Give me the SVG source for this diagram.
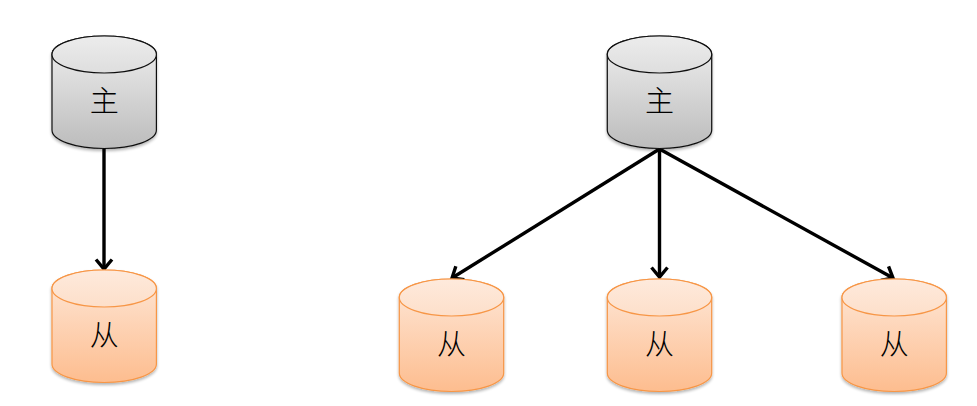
<svg xmlns="http://www.w3.org/2000/svg" xmlns:xlink="http://www.w3.org/1999/xlink" width="977" height="406" viewBox="0 0 977 406">
<style>
.grey .body{fill:url(#gb);stroke:#111;}
.grey .top{fill:url(#gt);stroke:#111;}
.orange .body{fill:url(#ob);stroke:#f79646;}
.orange .top{fill:url(#ot);stroke:#f79646;}
.body,.top{stroke-width:1.2;}
.lbl{font-family:"Noto Sans CJK SC","Noto Sans CJK JP",sans-serif;font-size:29px;font-weight:300;text-anchor:middle;fill:#000;}
.conn{stroke:#000;stroke-width:3.4;fill:none;marker-end:url(#arr);}
</style>
<defs>
<linearGradient id="gb" x1="0" y1="0" x2="0" y2="1"><stop offset="0" stop-color="#f0f0f0"/><stop offset="1" stop-color="#bcbcbc"/></linearGradient>
<linearGradient id="gt" x1="0" y1="0" x2="0" y2="1"><stop offset="0" stop-color="#ececec"/><stop offset="1" stop-color="#dedede"/></linearGradient>
<linearGradient id="ob" x1="0" y1="0" x2="0" y2="1"><stop offset="0" stop-color="#fee8d9"/><stop offset="1" stop-color="#fdbd8f"/></linearGradient>
<linearGradient id="ot" x1="0" y1="0" x2="0" y2="1"><stop offset="0" stop-color="#feeadc"/><stop offset="1" stop-color="#fddfca"/></linearGradient>
<filter id="sh" x="-10%" y="-10%" width="120%" height="125%"><feGaussianBlur in="SourceAlpha" stdDeviation="1.5"/><feOffset dy="1.5"/><feComponentTransfer><feFuncA type="linear" slope="0.3"/></feComponentTransfer><feMerge><feMergeNode/><feMergeNode in="SourceGraphic"/></feMerge></filter>
<marker id="arr" markerUnits="userSpaceOnUse" markerWidth="20" markerHeight="20" refX="13" refY="8" orient="auto" overflow="visible"><path d="M3.5 0L13 8L3.5 16" fill="none" stroke="#000" stroke-width="3.4"/></marker>
<path id="cyl-body" d="M0 18.5V94C0 104.2 23.4 112.5 52.2 112.5S104.4 104.2 104.4 94V18.5C104.4 8.3 81 0 52.2 0S0 8.3 0 18.5Z"/>
</defs>
<g id="connectors">
<line class="conn" x1="104" y1="149" x2="104" y2="269"/>
<line class="conn" x1="659.5" y1="149" x2="452" y2="278"/>
<line class="conn" x1="659.5" y1="149" x2="659.5" y2="277"/>
<line class="conn" x1="659.5" y1="149" x2="893" y2="278"/>
</g>
<g id="master-left" class="grey" transform="translate(52,36)"><g filter="url(#sh)"><use class="body" xlink:href="#cyl-body"/><ellipse class="top" cx="52.2" cy="18.5" rx="52.2" ry="18.5"/></g><text class="lbl" x="52.2" y="76">主</text></g>
<g id="slave-left" class="orange" transform="translate(52,270)"><g filter="url(#sh)"><use class="body" xlink:href="#cyl-body"/><ellipse class="top" cx="52.2" cy="18.5" rx="52.2" ry="18.5"/></g><text class="lbl" x="52.2" y="76">从</text></g>
<g id="master-right" class="grey" transform="translate(607.3,36)"><g filter="url(#sh)"><use class="body" xlink:href="#cyl-body"/><ellipse class="top" cx="52.2" cy="18.5" rx="52.2" ry="18.5"/></g><text class="lbl" x="52.2" y="76">主</text></g>
<g id="slave-1" class="orange" transform="translate(399.3,279)"><g filter="url(#sh)"><use class="body" xlink:href="#cyl-body"/><ellipse class="top" cx="52.2" cy="18.5" rx="52.2" ry="18.5"/></g><text class="lbl" x="52.2" y="76">从</text></g>
<g id="slave-2" class="orange" transform="translate(607.3,279)"><g filter="url(#sh)"><use class="body" xlink:href="#cyl-body"/><ellipse class="top" cx="52.2" cy="18.5" rx="52.2" ry="18.5"/></g><text class="lbl" x="52.2" y="76">从</text></g>
<g id="slave-3" class="orange" transform="translate(842,279)"><g filter="url(#sh)"><use class="body" xlink:href="#cyl-body"/><ellipse class="top" cx="52.2" cy="18.5" rx="52.2" ry="18.5"/></g><text class="lbl" x="52.2" y="76">从</text></g>
</svg>
